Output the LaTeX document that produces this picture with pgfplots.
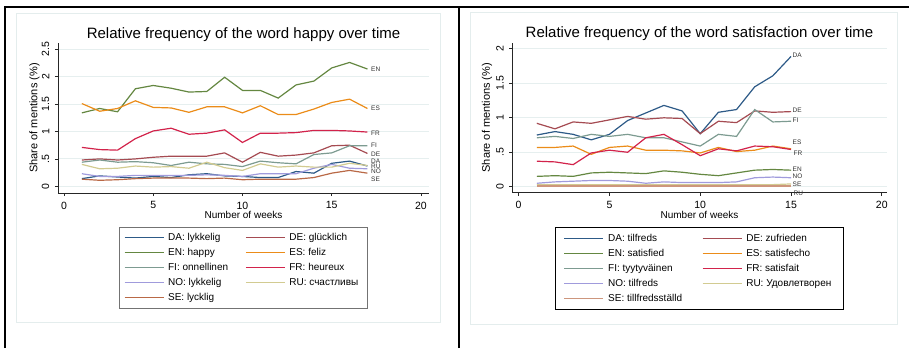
\documentclass[border=0pt]{standalone}
\usepackage{pgfplots}
\pgfplotsset{compat=1.18}
\usepackage{pgfplotstable}
\usepackage{fontspec}
\setmainfont{Liberation Sans}
\definecolor{cDA}{RGB}{45,90,135}
\definecolor{cDE}{RGB}{165,75,82}
\definecolor{cEN}{RGB}{100,135,65}
\definecolor{cES}{RGB}{235,140,25}
\definecolor{cFI}{RGB}{125,155,145}
\definecolor{cFR}{RGB}{210,35,75}
\definecolor{cNO}{RGB}{160,155,220}
\definecolor{cRU}{RGB}{210,203,145}
\definecolor{cSE}{RGB}{185,105,70}
\definecolor{cSEr}{RGB}{205,150,125}
\definecolor{gridc}{RGB}{230,239,239}
\definecolor{framec}{RGB}{228,237,237}

\pgfplotstableread{
week DA DE EN ES FI FR NO RU SE
1 0.14 0.48 1.34 1.51 0.44 0.71 0.23 0.40 0.13
2 0.19 0.50 1.42 1.37 0.48 0.67 0.18 0.32 0.11
3 0.17 0.48 1.36 1.42 0.44 0.66 0.18 0.33 0.12
4 0.15 0.50 1.78 1.56 0.45 0.87 0.20 0.37 0.14
5 0.18 0.53 1.84 1.44 0.43 1.01 0.20 0.35 0.15
6 0.16 0.55 1.79 1.43 0.38 1.06 0.20 0.36 0.15
7 0.21 0.55 1.72 1.35 0.44 0.95 0.20 0.33 0.15
8 0.23 0.55 1.73 1.45 0.41 0.97 0.21 0.44 0.14
9 0.19 0.61 1.99 1.45 0.40 1.03 0.20 0.34 0.15
10 0.18 0.44 1.75 1.34 0.36 0.80 0.18 0.29 0.12
11 0.16 0.62 1.75 1.47 0.46 0.97 0.23 0.41 0.13
12 0.16 0.55 1.61 1.31 0.43 0.97 0.23 0.35 0.13
13 0.27 0.57 1.85 1.31 0.41 0.98 0.23 0.37 0.13
14 0.24 0.61 1.92 1.41 0.58 1.02 0.33 0.35 0.16
15 0.42 0.74 2.16 1.53 0.61 1.02 0.40 0.35 0.24
16 0.46 0.75 2.26 1.59 0.74 1.01 0.33 0.42 0.29
17 0.37 0.60 2.14 1.42 0.74 0.99 0.32 0.38 0.24
}\happy

\pgfplotstableread{
week DA DE EN ES FI FR NO RU SE
1 0.75 0.92 0.15 0.57 0.71 0.37 0.05 0.03 0.005
2 0.80 0.84 0.16 0.57 0.73 0.36 0.07 0.03 0.005
3 0.76 0.94 0.15 0.59 0.70 0.32 0.08 0.03 0.005
4 0.68 0.92 0.20 0.47 0.76 0.49 0.09 0.03 0.005
5 0.76 0.97 0.21 0.57 0.73 0.53 0.09 0.03 0.005
6 0.96 1.02 0.20 0.59 0.76 0.50 0.08 0.03 0.005
7 1.07 0.98 0.19 0.53 0.71 0.71 0.05 0.03 0.005
8 1.18 1.00 0.23 0.53 0.71 0.76 0.07 0.03 0.005
9 1.10 0.99 0.21 0.52 0.65 0.61 0.06 0.03 0.005
10 0.77 0.77 0.18 0.49 0.59 0.45 0.06 0.03 0.005
11 1.08 0.95 0.16 0.57 0.76 0.55 0.06 0.03 0.005
12 1.12 0.93 0.20 0.51 0.73 0.52 0.07 0.03 0.005
13 1.45 1.10 0.24 0.53 1.12 0.59 0.13 0.03 0.005
14 1.61 1.08 0.25 0.59 0.94 0.58 0.14 0.03 0.005
15 1.89 1.09 0.24 0.55 0.95 0.54 0.13 0.04 0.005
}\satis

\tikzset{endlab/.style={anchor=west, inner sep=0pt, font=\fontsize{6.5}{7}\selectfont, text=black!80}}
\newcommand{\rl}[1]{\rotatebox{90}{#1}}

\pgfplotsset{
  every axis title shift=0pt,
  statastyle/.style={
    scale only axis, clip=false,
    axis x line*=bottom, axis y line*=left,
    axis line style={-, line width=0.8pt, black!85},
    tick align=outside, major tick length=3pt,
    tick style={line width=0.8pt, black!85},
    xtick={0,5,10,15,20},
    ymajorgrids, grid style={line width=1pt, gridc},
    /pgf/number format/assume math mode=true,
    ticklabel style={font=\fontsize{10.5}{12}\selectfont},
    xticklabel style={anchor=north, inner sep=0pt, yshift=-5.5pt},
    yticklabel style={anchor=east, inner sep=0pt, xshift=-5.5pt},
    title style={font=\fontsize{15}{18}\selectfont, anchor=base, at={(axis description cs:0.5,1)}},
    xlabel style={font=\fontsize{10}{12}\selectfont, anchor=base},
    ylabel style={font=\fontsize{11}{13}\selectfont, anchor=base},
    legend columns=2, legend cell align=left,
    legend image code/.code={\draw[##1] (0pt,0pt) -- (39pt,0pt);},
    legend style={font=\fontsize{10}{12}\selectfont, draw=none, fill=white,
      inner xsep=4.5pt, inner ysep=3.5pt, row sep=1.3pt,
      nodes={inner xsep=4pt, inner ysep=2pt, text height=7.5pt, text depth=2.2pt},
      /tikz/every even column/.append style={column sep=13pt}},
    every axis plot/.append style={line width=1.2pt, no markers},
  },
}

\begin{document}
\begin{tikzpicture}
\useasboundingbox (0,0) rectangle (909pt,348pt);
% panel frames
\draw[framec, line width=1pt] (16pt,26pt) rectangle (440pt,334pt);
\draw[framec, line width=1pt] (470pt,24pt) rectangle (897pt,335pt);
% black table lines
\draw[line width=1.2pt] (5pt,0pt) -- (5pt,341pt) -- (909pt,341pt);
\draw[line width=1.2pt] (459pt,0pt) -- (459pt,341pt);

\begin{axis}[statastyle,
  at={(58pt,155pt)}, anchor=south west, width=371pt, height=150pt,
  xmin=-0.336, xmax=20.45, ymin=-0.122, ymax=2.615,
  ytick={0,0.5,1,1.5,2,2.5}, yticklabels={\rl{0},\rl{.5},\rl{1},\rl{1.5},\rl{2},\rl{2.5}},
  title={Relative frequency of the word happy over time},
  title style={yshift=4.7pt},
  xlabel={Number of weeks}, xlabel style={at={(axis description cs:0.5,0)}, yshift=-25.6pt},
  ylabel={Share of mentions (\%)}, ylabel style={at={(axis description cs:-0.0558,0.5)}},
  legend style={at={(axis description cs:0.499,-0.227)}, anchor=north, name=legL},
]
\addplot[draw=cDA] table[x=week,y=DA] {\happy}; \addlegendentry{DA: lykkelig}
\addplot[draw=cDE] table[x=week,y=DE] {\happy}; \addlegendentry{DE: glücklich}
\addplot[draw=cEN] table[x=week,y=EN] {\happy}; \addlegendentry{EN: happy}
\addplot[draw=cES] table[x=week,y=ES] {\happy}; \addlegendentry{ES: feliz}
\addplot[draw=cFI] table[x=week,y=FI] {\happy}; \addlegendentry{FI: onnellinen}
\addplot[draw=cFR] table[x=week,y=FR] {\happy}; \addlegendentry{FR: heureux}
\addplot[draw=cNO] table[x=week,y=NO] {\happy}; \addlegendentry{NO: lykkelig}
\addplot[draw=cRU] table[x=week,y=RU] {\happy}; \addlegendentry{RU: счастливы}
\addplot[draw=cSE] table[x=week,y=SE] {\happy}; \addlegendentry{SE: lycklig}
\node[endlab] at (axis cs:17.2,2.13) {EN};
\node[endlab] at (axis cs:17.2,1.42) {ES};
\node[endlab] at (axis cs:17.2,0.97) {FR};
\node[endlab] at (axis cs:17.2,0.74) {FI};
\node[endlab] at (axis cs:17.2,0.59) {DE};
\node[endlab] at (axis cs:17.2,0.46) {DA};
\node[endlab] at (axis cs:17.2,0.37) {RU};
\node[endlab] at (axis cs:17.2,0.28) {NO};
\node[endlab] at (axis cs:17.2,0.13) {SE};
\end{axis}
\draw[black!55, line width=0.8pt] (legL.south west) rectangle (legL.north east);

\begin{axis}[statastyle,
  at={(512.3pt,155.3pt)}, anchor=south west, width=374.4pt, height=150pt,
  xmin=-0.35, xmax=20.27, ymin=-0.087, ymax=2.09,
  ytick={0,0.5,1,1.5,2}, yticklabels={\rl{0},\rl{.5},\rl{1},\rl{1.5},\rl{2}},
  title={Relative frequency of the word satisfaction over time},
  title style={yshift=5pt},
  xlabel={Number of weeks}, xlabel style={at={(axis description cs:0.5,0)}, yshift=-25.6pt},
  ylabel={Share of mentions (\%)}, ylabel style={at={(axis description cs:-0.0596,0.5)}},
  legend style={at={(axis description cs:0.4997,-0.235)}, anchor=north, name=legR, inner xsep=8pt,
    /tikz/every even column/.append style={column sep=16pt}},
]
\addplot[draw=cDA] table[x=week,y=DA] {\satis}; \addlegendentry{DA: tilfreds}
\addplot[draw=cDE] table[x=week,y=DE] {\satis}; \addlegendentry{DE: zufrieden}
\addplot[draw=cEN] table[x=week,y=EN] {\satis}; \addlegendentry{EN: satisfied}
\addplot[draw=cES] table[x=week,y=ES] {\satis}; \addlegendentry{ES: satisfecho}
\addplot[draw=cFI] table[x=week,y=FI] {\satis}; \addlegendentry{FI: tyytyväinen}
\addplot[draw=cFR] table[x=week,y=FR] {\satis}; \addlegendentry{FR: satisfait}
\addplot[draw=cNO] table[x=week,y=NO] {\satis}; \addlegendentry{NO: tilfreds}
\addplot[draw=cRU] table[x=week,y=RU] {\satis}; \addlegendentry{RU: Удовлетворен}
\addplot[draw=cSEr, line width=1.8pt] table[x=week,y=SE] {\satis}; \addlegendentry{SE: tillfredsställd}
\node[endlab] at (axis cs:15.08,1.91) {DA};
\node[endlab] at (axis cs:15.08,1.11) {DE};
\node[endlab] at (axis cs:15.08,0.97) {FI};
\node[endlab] at (axis cs:15.08,0.65) {ES};
\node[endlab] at (axis cs:15.13,0.49) {FR};
\node[endlab] at (axis cs:15.08,0.26) {EN};
\node[endlab] at (axis cs:15.08,0.145) {NO};
\node[endlab] at (axis cs:15.08,0.03) {SE};
\node[endlab] at (axis cs:15.13,-0.10) {RU};
\end{axis}
\draw[black, line width=0.9pt] (legR.south west) rectangle (legR.north east);
\end{tikzpicture}
\end{document}
